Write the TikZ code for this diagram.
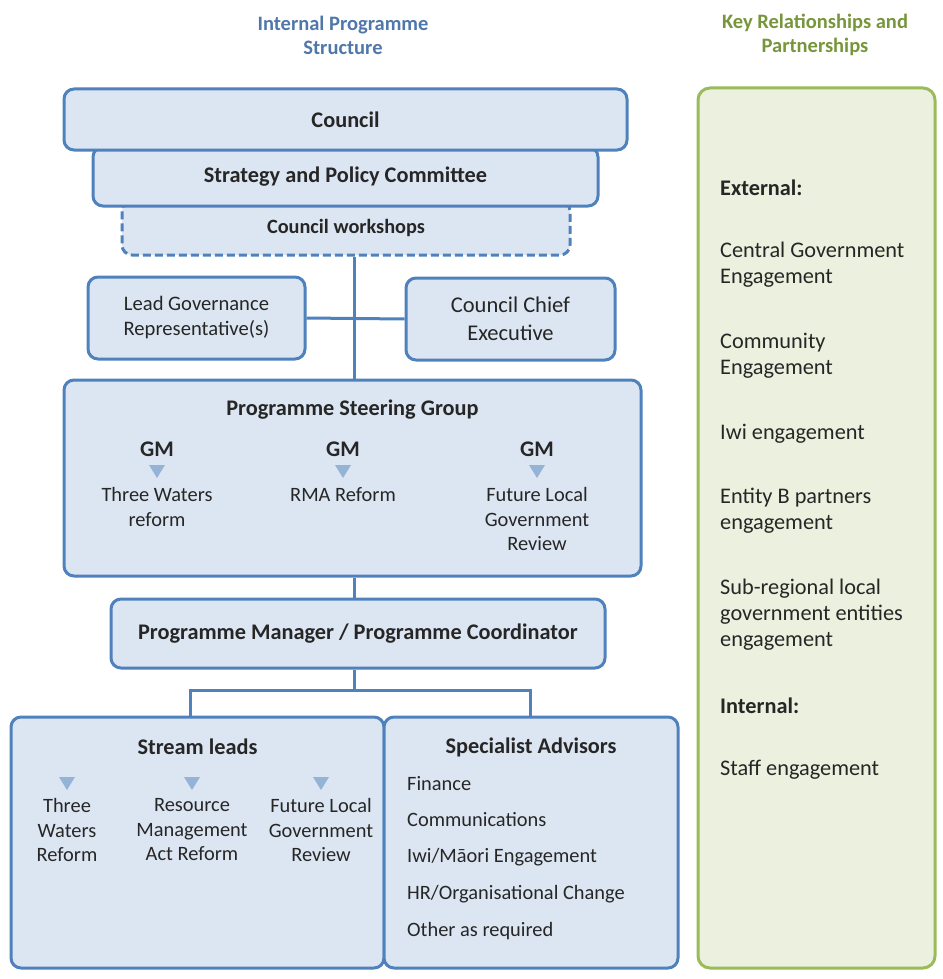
\documentclass[tikz,border=0pt]{standalone}
\usepackage{fontspec}
\setmainfont{Carlito}
\usepackage{xcolor}
\usetikzlibrary{positioning}
\usetikzlibrary{calc}

\definecolor{headblue}{RGB}{79,119,170}
\definecolor{headgreen}{RGB}{119,150,60}
\definecolor{boxline}{RGB}{79,129,189}
\definecolor{boxfill}{RGB}{220,230,242}
\definecolor{keyline}{RGB}{155,187,89}
\definecolor{keyfill}{RGB}{235,241,222}
\definecolor{triblue}{RGB}{149,179,215}
\definecolor{txt}{RGB}{38,38,38}

\begin{document}
\begin{tikzpicture}[x=1pt,y=-1pt,
		every node/.style={text=txt,font=\fontsize{22.3}{26}\selectfont},
		box/.style={draw=boxline,fill=boxfill,line width=3pt,rounded corners=10pt,
			inner sep=0pt,align=center},
		keybox/.style={draw=keyline,fill=keyfill,line width=3pt,rounded corners=12pt},
		title/.style={font=\fontsize{22.3}{26}\selectfont\bfseries},
		head/.style={font=\fontsize{20.5}{24}\selectfont\bfseries,align=center},
		small/.style={font=\fontsize{20.4}{24.5}\selectfont,align=center,anchor=north,inner sep=0pt},
		item/.style={anchor=west,align=left,inner sep=0pt},
		link/.style={draw=boxline,line width=3pt},
		downtri/.pic={\fill[triblue] (-8,-6) -- (8,-6) -- (0,7) -- cycle;}]
	\useasboundingbox (0,0) rectangle (942,979);
	% headings
	\node[head,text=headblue] (hl) at (343,35) {Internal Programme\\Structure};
	\node[head,text=headgreen] (hr) at (815,35) {Key Relationships and\\Partnerships};
	% governance
	\node[box,dash pattern=on 8pt off 4pt,minimum width=448pt,minimum height=54pt,
		font=\fontsize{20.3}{24}\selectfont\bfseries] (ws) at (346,228) {Council workshops};
	\node[box,minimum width=505pt,minimum height=59pt,title] (spc) at (345.5,176.5) {Strategy and Policy Committee};
	\node[box,minimum width=563pt,minimum height=61pt,title] (council) at (345.5,119.5) {Council};
	\node[box,minimum width=217pt,minimum height=82pt,font=\fontsize{20.6}{25}\selectfont] (lead) at (196.5,318) {Lead Governance\\Representative(s)};
	\node[box,minimum width=209pt,minimum height=82pt,font=\fontsize{22.5}{28}\selectfont] (chief) at (510.5,319) {Council Chief\\Executive};
	% steering group
	\node[box,minimum width=577pt,minimum height=196pt] (psg) at (352.5,478) {};
	\node[title] (psgt) at (psg.center |- 0,410) {Programme Steering Group};
	\node[title] (gm1) at (157,449) {GM};
	\node[title] (gm2) at (343,449) {GM};
	\node[title] (gm3) at (537,449) {GM};
	\path (157,471) pic {downtri} (343,471) pic {downtri} (537,471) pic {downtri};
	\node[small] (sg1) at (157,487.5) {Three Waters\\reform};
	\node[small] (sg2) at (343,487.5) {RMA Reform};
	\node[small] (sg3) at (537,487.5) {Future Local\\Government\\Review};
	% programme manager
	\node[box,minimum width=494pt,minimum height=69pt,title] (pm) at (358,633.5) {Programme Manager / Programme Coordinator};
	% streams
	\node[box,minimum width=373pt,minimum height=251pt] (stream) at (197.5,842.5) {};
	\node[box,minimum width=294pt,minimum height=251pt] (spec) at (531,842.5) {};
	\node[title] (st) at (197.5,747) {Stream leads};
	\path (67,783) pic {downtri} (192,783) pic {downtri} (321,783) pic {downtri};
	\node[small] (sl1) at (67,798.5) {Three\\Waters\\Reform};
	\node[small] (sl2) at (192,798.5) {Resource\\Management\\Act Reform};
	\node[small] (sl3) at (321,798.5) {Future Local\\Government\\Review};
	\node[title] (sat) at (531,747) {Specialist Advisors};
	\node[item,small,anchor=west] (sa1) at (407,784) {Finance};
	\node[item,small,anchor=west] (sa2) at (407,820) {Communications};
	\node[item,small,anchor=west] (sa3) at (407,857) {Iwi/Māori Engagement};
	\node[item,small,anchor=west] (sa4) at (407,894) {HR/Organisational Change};
	\node[item,small,anchor=west] (sa5) at (407,931) {Other as required};
	% connectors
	\coordinate (split) at (354,690);
	\draw[link] (ws.south -| split) -- (psg.north -| split);
	\draw[link] (lead.east) -- (chief.west);
	\draw[link] (psg.south -| split) -- (pm.north -| split);
	\draw[link] (pm.south -| split) -- (split);
	\draw[link] (stream.north -| 190,0) |- (split) -| (spec.north -| 530,0);
	% key relationships
	\node[keybox,minimum width=237pt,minimum height=880pt] (key) at (816.5,528) {};
	\node[item,title] (ext) at (720,188) {External:};
	\node[item] (k1) at (720,265) {Central Government\\Engagement};
	\node[item] (k2) at (720,356) {Community\\Engagement};
	\node[item] (k3) at (720,434) {Iwi engagement};
	\node[item] (k4) at (720,510.5) {Entity B partners\\engagement};
	\node[item] (k5) at (720,615) {Sub-regional local\\government entities\\engagement};
	\node[item,title] (int) at (720,706) {Internal:};
	\node[item] (k6) at (720,770) {Staff engagement};
\end{tikzpicture}
\end{document}
